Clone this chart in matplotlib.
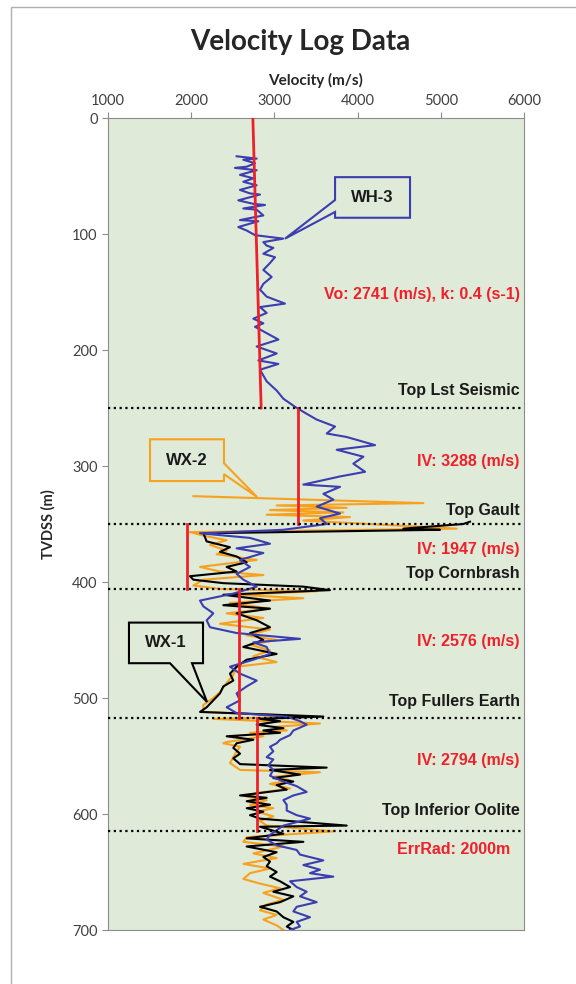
import numpy as np
import matplotlib.pyplot as plt
from matplotlib.patches import Polygon, Rectangle

# velocity logs: (depth m, velocity m/s)
wh3_depth = [33, 35, 36, 39, 42, 43, 45, 49, 52, 55, 58, 62, 65, 66, 71, 74, 75, 78, 79, 84,
             88, 89, 94, 97, 101, 104, 107, 110, 112, 117, 120, 125, 131, 137, 143, 148, 154,
             160, 163, 168, 173, 177, 180, 191, 197, 203, 209, 212, 217, 227, 235, 242, 249,
             255, 260, 266, 272, 275, 282, 286, 292, 298, 305, 309, 316, 318, 324, 329, 335,
             341, 345, 350, 355, 358, 362, 367, 371, 375, 381, 387, 393, 398, 404, 410, 416,
             421, 427, 433, 439, 444, 449, 452, 456, 462, 467, 473, 479, 485, 490, 496, 502,
             508, 513,
             516, 520, 523, 528, 532, 536, 539, 542, 546, 551, 553, 558, 562, 567, 572, 576,
             581, 584, 588, 592, 597, 601, 604, 610, 614, 618, 622, 627, 631, 635, 640, 644,
             648, 651, 654, 658, 663, 667, 671, 676, 680, 684, 689, 693, 697, 700]
wh3_vel = [2546, 2787, 2626, 2767, 2667, 2526, 2787, 2586, 2747, 2626, 2787, 2586, 2707, 2827,
           2566, 2747, 2887, 2626, 2787, 2867, 2586, 2807, 2566, 2667, 2767, 3107, 2867, 2907,
           2987, 2867, 3007, 2947, 2867, 2967, 2867, 2827, 2907, 3127, 2827, 2907, 2747, 2867,
           2767, 3048, 2787, 3028, 2807, 3048, 2827, 2907, 3028, 3108, 3248, 3388, 3509, 3729,
           3629, 3869, 4210, 3749, 4070, 3949, 4090, 3789, 3348, 3789, 3589, 3709, 3509, 3789,
           3549, 3629, 3107, 2106, 2707, 2947, 2546, 2867, 2586, 2707, 2546, 2627, 2787, 2506,
           2106, 2146, 2266, 2186, 2226, 2546, 3308, 2747, 2907, 2947, 2747, 2466, 2586, 2787,
           2667, 2546, 2586, 2426, 2546,
           3148, 3308, 3388, 3228, 3188, 3068, 3027, 2947, 2987, 2907, 2987, 2927, 2987, 2947,
           3108, 3268, 3388, 3228, 3108, 3148, 3148, 3268, 3428, 3108, 3027, 2947, 2907, 3027,
           3268, 3308, 3588, 3348, 3548, 3428, 3708, 3188, 3268, 3388, 3308, 3508, 3268, 3228,
           3428, 3268, 3308, 3188]

wx2_depth = [326, 332, 334, 336, 338, 340, 342, 344, 347, 354, 357, 360, 364, 368, 373, 376,
             381, 387, 391, 394, 398, 403, 406, 408, 411, 414, 418, 423, 427, 431, 436, 441,
             446, 450, 454, 459, 464, 469, 473, 480, 487, 495, 500, 506, 512,
             516, 518, 522, 525, 528, 530, 533, 538, 539, 542, 546, 551, 556, 562, 564, 568,
             571, 574, 578, 582, 585, 588, 592, 595, 598, 602, 606, 610, 615, 620, 624, 628,
             634, 638, 643, 647, 651, 656, 660, 664, 668, 674, 678, 683, 687, 691, 696, 700]
wx2_vel = [2026, 4790, 3027, 3869, 2947, 3829, 2907, 3909, 3348, 5191, 1985, 2146, 2426, 2226,
           2426, 2306, 2787, 2106, 2346, 2867, 2146, 2026, 2346, 3508, 2546, 3348, 2466, 2947,
           2426, 2867, 2346, 2947, 2667, 3027, 2707, 2947, 2747, 3027, 2546, 2506, 2426, 2346,
           2266, 2146, 2146,
           3468, 2266, 3548, 2987, 3148, 2707, 2867, 2426, 2386, 2587, 2547, 2506, 2466, 2587,
           3548, 2987, 3188, 2947, 3188, 2787, 2667, 2907, 2707, 2987, 2787, 2987, 2827, 2907,
           3708, 2667, 2627, 3108, 2747, 3027, 2627, 2947, 2707, 2627, 2827, 3068, 2867, 3108,
           2907, 2827, 3027, 2867, 3027, 3108]

wx1_depth = [348, 350, 354, 355, 358, 365, 370, 374, 378, 383, 387, 391, 395, 398, 401, 404,
             407, 411, 416, 420, 423, 427, 433, 439, 444, 450, 456, 462, 467, 473, 479, 485,
             490, 496, 502, 508, 512,
             516, 518, 520, 523, 526, 528, 530, 533, 536, 539, 543, 548, 552, 557, 560, 562,
             566, 569, 572, 575, 579, 584, 586, 589, 592, 595, 598, 601, 604, 610, 611, 617,
             621, 624, 628, 633, 637, 641, 645, 650, 654, 658, 663, 667, 671, 676, 680, 684,
             689, 693, 697, 700]
wx1_vel = [5351, 5271, 4550, 4991, 2146, 2186, 2466, 2346, 2546, 2667, 2426, 2546, 1985, 2026,
           2386, 3348, 3668, 2386, 2947, 2386, 2947, 2546, 2787, 2947, 2707, 2867, 2626, 3027,
           2667, 2546, 2466, 2506, 2386, 2346, 2266, 2186, 2106,
           3588, 2827, 3068, 2787, 3108, 2867, 3068, 2426, 2747, 2546, 2506, 2587, 2506, 2587,
           3628, 2947, 3308, 2987, 3228, 3027, 3148, 2587, 2907, 2667, 2947, 2667, 2867, 2707,
           2827, 3869, 2827, 3108, 2667, 3348, 2667, 3027, 2867, 2947, 2907, 3027, 2947, 3068,
           3188, 2987, 3228, 3068, 2827, 3027, 3108, 3228, 3148, 3228]

# interval velocity model
vo, k = 2741, 0.4
vo_top, vo_base = 0, 250
iv_values = [3288, 1947, 2576, 2794]
iv_tops = [250, 350, 406, 517]
iv_bases = [350, 406, 517, 615]

horizon_names = ["Top Lst Seismic", "Top Gault", "Top Cornbrash", "Top Fullers Earth",
                 "Top Inferior Oolite"]
horizon_depths = [250, 350, 406, 517, 615]
horizon_label_depths = [235, 338, 393, 503, 597]
iv_label_depths = [296, 372, 451, 554]

blue = "#3B3DB0"
orange = "#F7A11E"
red = "#F0202A"
bg = "#DFEBD8"

fig = plt.figure(figsize=(5.76, 9.84), dpi=100)
fig.patches.append(Rectangle((11 / 576, -0.01), 1.1, 1 - 7 / 984 + 0.01,
                             transform=fig.transFigure, fill=False,
                             edgecolor="#B0B0B0", linewidth=1))
ax = fig.add_axes([108 / 576, 1 - 930 / 984, 416 / 576, 812 / 984])
ax.set_facecolor(bg)

ax.plot(wx2_vel, wx2_depth, color=orange, linewidth=1.5, zorder=3)
ax.plot(wx1_vel, wx1_depth, color="black", linewidth=1.5, zorder=3)
ax.plot(wh3_vel, wh3_depth, color=blue, linewidth=1.5, zorder=4)

# Vo + k*z trend and interval velocities
vo_z = np.array([vo_top, vo_base])
ax.plot(vo + k * vo_z, vo_z, color=red, linewidth=2, zorder=5)
for v, t, b in zip(iv_values, iv_tops, iv_bases):
    ax.plot([v, v], [t, b], color=red, linewidth=2, zorder=5)

for d in horizon_depths:
    ax.axhline(d, color="black", linestyle=(0, (1, 1.6)), linewidth=1.6, zorder=6)

lbl = dict(family="Liberation Sans", fontweight="bold", fontsize=11.5, ha="right", va="center")
for name, d in zip(horizon_names, horizon_label_depths):
    ax.text(5950, d, name, color="#1A1A1A", **lbl)
ax.text(5950, 152, f"Vo: {vo} (m/s), k: {k} (s-1)", color=red, **lbl)
for v, d in zip(iv_values, iv_label_depths):
    ax.text(5950, d, f"IV: {v} (m/s)", color=red, **lbl)
ax.text(5830, 631, "ErrRad: 2000m", color=red, **lbl)


def callout(ax, x0, x1, y0, y1, base, tip, color, text):
    (bx0, by0), (bx1, by1) = base
    pts = {"left": [(x0, y0), (x1, y0), (x1, y1), (x0, y1), (bx1, by1), tip, (bx0, by0)],
           "right": [(x0, y0), (x1, y0), (bx0, by0), tip, (bx1, by1), (x1, y1), (x0, y1)],
           "bottom": [(x0, y0), (x1, y0), (x1, y1), (bx1, by1), tip, (bx0, by0), (x0, y1)]}
    side = "left" if bx0 == x0 else ("right" if bx0 == x1 else "bottom")
    ax.add_patch(Polygon(pts[side], closed=True, facecolor=bg, edgecolor=color,
                         linewidth=1.5, zorder=7))
    ax.text((x0 + x1) / 2, (y0 + y1) / 2, text, family="Liberation Sans",
            fontweight="bold", fontsize=12, ha="center", va="center", color="#1A1A1A", zorder=8)


callout(ax, 3729, 4630, 51, 86, ((3729, 70.7), (3729, 81)), (3128, 104), blue, "WH-3")
callout(ax, 1505, 2394, 277, 313, ((2394, 297.6), (2394, 307)), (2791, 326.7), orange, "WX-2")
callout(ax, 1252, 2142, 435, 470, ((1745, 470), (2010, 470)), (2190, 503.4), "black", "WX-1")

ax.set_xlim(1000, 6000)
ax.set_ylim(700, 0)
ax.set_xticks(range(1000, 6001, 1000))
ax.set_yticks(range(0, 701, 100))
ax.xaxis.tick_top()
ax.xaxis.set_label_position("top")
ax.tick_params(colors="#8C8C8C", labelcolor="#404040", labelsize=10.5, length=4)
for lab in ax.get_xticklabels() + ax.get_yticklabels():
    lab.set_family("Lato")
for s in ax.spines.values():
    s.set_color("#8C8C8C")
ax.set_xlabel("Velocity (m/s)", family="Lato", fontweight="bold", fontsize=11,
              color="#262626", labelpad=6)
ax.set_ylabel("TVDSS (m)", family="Lato", fontweight="bold", fontsize=10.5,
              color="#262626", labelpad=12)
fig.text(300 / 576, 1 - 42 / 984, "Velocity Log Data", family="Lato", fontweight="bold",
         fontsize=20, ha="center", va="center", color="#262626")

plt.savefig("out.png", dpi=100)
plt.close()
